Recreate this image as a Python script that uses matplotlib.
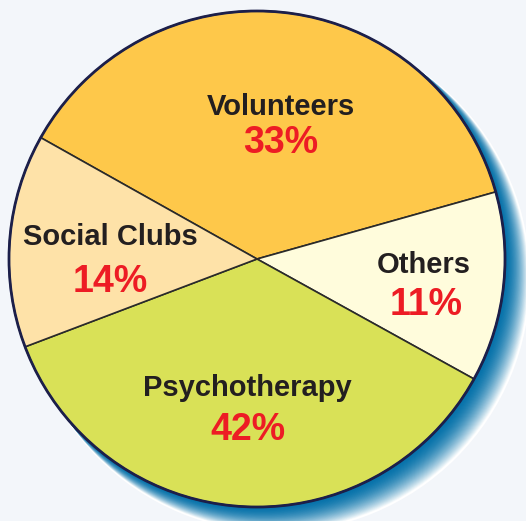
"""
Pie chart of support sources with a blue drop shadow on the lower right.
"""
import matplotlib
matplotlib.use("Agg")
import matplotlib.pyplot as plt
from matplotlib.patches import Circle
import numpy as np

plt.rcParams["font.family"] = ["Liberation Sans", "DejaVu Sans"]

# wedge shares as drawn (clockwise from the Volunteers/Social Clubs border)
categories = ["Volunteers", "Others", "Psychotherapy", "Social Clubs"]
sizes = [37.5, 12.4, 36.2, 13.9]
pct_labels = ["33%", "11%", "42%", "14%"]
colors = ["#fec84a", "#fffcdc", "#d9e157", "#fee2a8"]

# label anchors (baseline), pixel-like coords with y up
label_pos = [(281, 406), (424, 248), (247, 125), (110, 276)]
pct_pos = [(281, 368), (426, 206), (248, 81), (110, 229)]

BG = "#f3f6fa"
W, H = 526, 521
center = (257, 262)
radius = 248

fig = plt.figure(figsize=(W / 100, H / 100), dpi=100, facecolor=BG)
ax = fig.add_axes([0, 0, 1, 1])

# drop shadow: stack of shifted circles, light outside -> dark near the pie
shift = np.array([20.0, -20.0])
grow = 4.0
dark = np.array([0x06, 0x72, 0xaa]) / 255
white = np.array([1.0, 1.0, 1.0])
n = 40
ax.add_patch(Circle(np.array(center) + shift, radius + grow + 1.2, color="white", lw=0, zorder=1))
for k in range(n, 0, -1):
    t = k / n
    col = dark + (white - dark) * t ** 1.8
    ax.add_patch(Circle(np.array(center) + shift * t, radius + grow * t,
                        color=col, lw=0, zorder=1))

wedges, _ = ax.pie(sizes, colors=colors, startangle=150.7, counterclock=False,
                   center=center, radius=radius, frame=True,
                   wedgeprops=dict(edgecolor="#2a2a2a", linewidth=1.2))
for w in wedges:
    w.set_zorder(2)
ax.add_patch(Circle(center, radius, fill=False, edgecolor="#1c1f4a", lw=2, zorder=3))

ax.set_xlim(0, W)
ax.set_ylim(0, H)
ax.set_aspect("equal")
ax.axis("off")

for name, (x, y) in zip(categories, label_pos):
    ax.text(x, y, name, ha="center", va="baseline", fontsize=21,
            fontweight="bold", color="#231f20", zorder=4)
for pct, (x, y) in zip(pct_labels, pct_pos):
    ax.text(x, y, pct, ha="center", va="baseline", fontsize=27,
            fontweight="bold", color="#ed1c24", zorder=4)

fig.savefig("out.png", dpi=100, facecolor=BG)
plt.close(fig)
